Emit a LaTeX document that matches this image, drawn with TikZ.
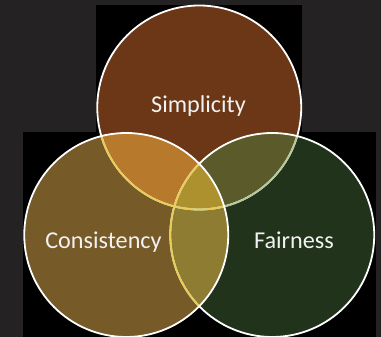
\documentclass[tikz,border=0pt]{standalone}
\usepackage{fontspec}
\setmainfont{Carlito}
\begin{document}
\begin{tikzpicture}[
        x=1pt,
        y=1pt,
        ring/.style={
            circle,
            minimum size=204pt,
            inner sep=0pt,
            outer sep=0pt
          },
        lbl/.style={
            anchor=base,
            text=labelcolor,
            font=\fontsize{24.2}{29}\selectfont
          }]
        % Define colors
        \definecolor{bgcolor}{HTML}{252223}
        \definecolor{simpcolor}{HTML}{6B3716}
        \definecolor{conscolor}{HTML}{765A28}
        \definecolor{faircolor}{HTML}{21331A}
        \definecolor{simpcons}{HTML}{B77A2C}
        \definecolor{simpfair}{HTML}{5A5A2A}
        \definecolor{consfair}{HTML}{8D7C32}
        \definecolor{allthree}{HTML}{AE912F}
        \definecolor{yellowedge}{HTML}{E8CC55}
        \definecolor{greenedge}{HTML}{B4C89C}
        \definecolor{labelcolor}{HTML}{F2F2F2}

        % Draw background
        \fill[bgcolor] (0,0) rectangle (381,337);
        \useasboundingbox (0,0) rectangle (381,337);
        \fill[black] (96,205) rectangle (302,332);
        \fill[black] (23,0) rectangle (376,205);

        % Draw circles
        \node[ring, fill=simpcolor] (simp) at (199.25,229.5) {};
        \node[ring, fill=faircolor] (fair) at (272.25,102) {};
        \node[ring, fill=conscolor] (cons) at (126.25,102) {};

        % Draw overlaps
        \begin{scope}
          \clip (simp.center) circle (102pt);
          \fill[simpcons] (cons.center) circle (102pt);
          \fill[simpfair] (fair.center) circle (102pt);
        \end{scope}
        \begin{scope}
          \clip (cons.center) circle (102pt);
          \fill[consfair] (fair.center) circle (102pt);
          \clip (simp.center) circle (102pt);
          \fill[allthree] (fair.center) circle (102pt);
        \end{scope}

        % Draw edges
        \draw[white, line width=1.8pt] (simp.center) circle (102pt);
        \begin{scope}
          \clip (fair.center) circle (102pt);
          \draw[greenedge, line width=1.8pt] (simp.center) circle (102pt);
        \end{scope}
        \draw[white, line width=1.8pt] (fair.center) circle (102pt);
        \begin{scope}
          \clip (cons.center) circle (102pt);
          \draw[yellowedge, line width=1.8pt] (simp.center) circle (102pt);
          \draw[yellowedge, line width=1.8pt] (fair.center) circle (102pt);
        \end{scope}
        \draw[white, line width=1.8pt] (cons.center) circle (102pt);

        % Label circles
        \node[lbl] (simptext) at (198.5,224) {Simplicity};
        \node[lbl] (constext) at (103.5,88) {Consistency};
        \node[lbl] (fairtext) at (294,88) {Fairness};
    \end{tikzpicture}
\end{document}
